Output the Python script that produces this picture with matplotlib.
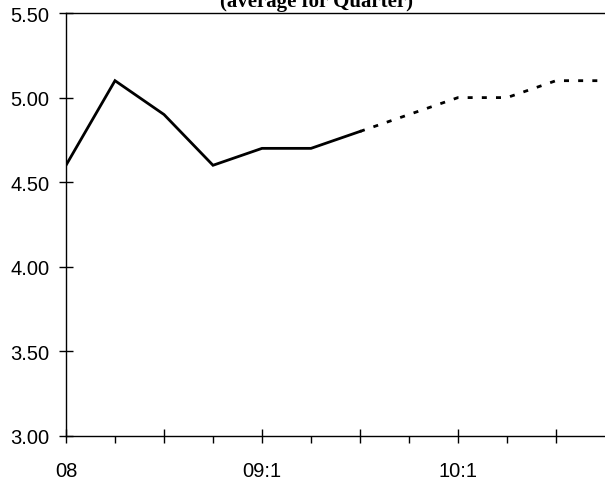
import matplotlib
matplotlib.use("Agg")
import matplotlib.pyplot as plt
import numpy as np

# Data
quarters = ["08", "08:2", "08:3", "08:4", "09:1", "09:2", "09:3",
            "09:4", "10:1", "10:2", "10:3", "10:4"]
actual = [4.60, 5.10, 4.90, 4.60, 4.70, 4.70, 4.80]
forecast = [4.80, 4.90, 5.00, 5.00, 5.10, 5.10]
xtick_labels = ["08", "", "09:1", "", "10:1", ""]
yticks = [3.00, 3.50, 4.00, 4.50, 5.00, 5.50]
title = "(average for Quarter)"

W, H = 605, 485
fig = plt.figure(figsize=(W / 100, H / 100), dpi=100)
px = 49.0  # pixels per quarter
left, right_px, bottom, top = 66, 66 + 11.3 * px, 437, 14
ax = fig.add_axes([left / W, 1 - bottom / H, (right_px - left) / W, (bottom - top) / H])

x_act = np.arange(len(actual))
x_fc = np.arange(len(actual) - 1, len(actual) - 1 + len(forecast))
ax.plot(x_act, actual, color="black", lw=2.0, solid_joinstyle="miter")
ax.plot(x_fc, forecast, color="black", lw=2.0, dashes=(1.8, 3.3),
        dash_capstyle="butt")

ax.set_xlim(0, 11.3)
ax.set_ylim(3.0, 5.5)
ax.set_yticks(yticks)
ax.set_yticklabels([f"{v:.2f}" for v in yticks])
ax.set_xticks(np.arange(0, 11, 2))
ax.set_xticklabels(xtick_labels)
ax.set_xticks(np.arange(1, 11, 2), minor=True)

for s in ["left", "top", "bottom"]:
    ax.spines[s].set_linewidth(1.0)
ax.spines["right"].set_visible(False)

tick_font = "Liberation Sans"
ax.tick_params(axis="both", which="major", direction="inout", length=10,
               width=1.0, labelsize=14.5, colors="black")
ax.tick_params(axis="y", pad=7)
ax.tick_params(axis="x", which="major", pad=13)
ax.tick_params(axis="x", which="minor", direction="out", length=5, width=1.0)
for lab in ax.get_xticklabels() + ax.get_yticklabels():
    lab.set_fontfamily(tick_font)

fig.text(316 / W, 1 - 7 / H, title, ha="center", va="baseline",
         fontfamily="Liberation Serif", fontweight="bold", fontsize=15)

fig.savefig("out.png", dpi=100)
